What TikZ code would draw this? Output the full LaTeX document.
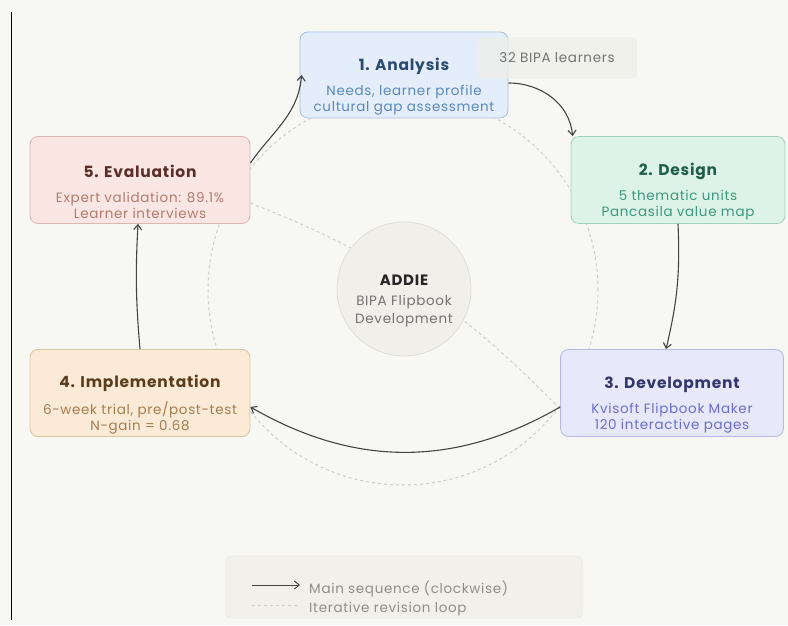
\documentclass[tikz,border=0pt]{standalone}
\usepackage{fontspec}
\setmainfont{Poppins}
\usetikzlibrary{arrows.meta}

\definecolor{bgcol}{HTML}{F7F7F3}
\definecolor{anafill}{HTML}{E4EEFA}
\definecolor{anadraw}{HTML}{A8C0DC}
\definecolor{anatitle}{HTML}{2A4A70}
\definecolor{anasub}{HTML}{5C88BC}
\definecolor{desfill}{HTML}{DDF3EA}
\definecolor{desdraw}{HTML}{A0D2C0}
\definecolor{destitle}{HTML}{1F5E4B}
\definecolor{dessub}{HTML}{3A9A7A}
\definecolor{devfill}{HTML}{E8E8FB}
\definecolor{devdraw}{HTML}{B8B8E4}
\definecolor{devtitle}{HTML}{35356E}
\definecolor{devsub}{HTML}{6C6CCC}
\definecolor{impfill}{HTML}{FBEBD6}
\definecolor{impdraw}{HTML}{DCC6A2}
\definecolor{imptitle}{HTML}{5A3D1F}
\definecolor{impsub}{HTML}{A47C52}
\definecolor{evafill}{HTML}{FAE6E2}
\definecolor{evadraw}{HTML}{DDB8B2}
\definecolor{evatitle}{HTML}{5B2E29}
\definecolor{evasub}{HTML}{B27A72}
\definecolor{corefill}{HTML}{F0EFEA}
\definecolor{coredraw}{HTML}{DEDDD6}
\definecolor{flowgray}{HTML}{444444}
\definecolor{loopgray}{HTML}{CFCFC8}
\definecolor{legfill}{HTML}{F1F0EA}
\definecolor{legdraw}{HTML}{E8E7E0}
\definecolor{legtext}{HTML}{8E8E88}

\newcommand{\stagetitle}[2]{{\color{#1}\fontsize{15.5}{16}\selectfont\bfseries\rule{0pt}{36pt}#2}}
\newcommand{\widefont}[1]{\fontsize{#1}{16}\selectfont\addfontfeature{LetterSpace=5}}

\begin{document}
\begin{tikzpicture}[x=1pt,y=1pt,
  stage/.style={draw, rounded corners=8pt, line width=0.8pt, minimum width=220pt,
    minimum height=87pt, inner ysep=1pt, align=center, font=\widefont{13.5}},
  flow/.style={draw=flowgray, line width=1.1pt, -{Straight Barb[length=5pt,width=8pt]}},
  loop/.style={draw=loopgray, line width=1pt, dash pattern=on 3pt off 3pt}
]
% Canvas and margins
\fill[bgcol] (0,0) rectangle (788,625);
\draw[black, line width=1pt] (11,613) -- (11,5);

% Iterative revision loop
\draw[loop] (403,335) circle (195);

% Stage boxes
\node[stage, fill=evafill, draw=evadraw] (eva) at (140,445)
  {\stagetitle{evatitle}{5. Evaluation}\\[9pt]{\color{evasub}Expert validation: 89.1\%}\\{\color{evasub}Learner interviews}};
\node[stage, fill=devfill, draw=devdraw, minimum width=223pt] (dev) at (672,232)
  {\stagetitle{devtitle}{3. Development}\\[9pt]{\color{devsub}Kvisoft Flipbook Maker}\\{\color{devsub}120 interactive pages}};

% Revision path across the centre
\draw[loop] ([yshift=-23pt]eva.east) to[bend left=12] ([yshift=-16pt]dev.west);

% Centre
\node[circle, fill=corefill, draw=coredraw, line width=0.8pt, minimum size=134pt, inner sep=1pt,
  align=center, font=\fontsize{13.5}{18}\selectfont\addfontfeature{LetterSpace=5}] (core) at (404,336)
  {{\color{black!85}\fontsize{15}{18}\selectfont\bfseries\rule{0pt}{35pt}ADDIE}\\[2pt]{\color{black!55}BIPA Flipbook}\\{\color{black!55}Development}};

\node[stage, fill=anafill, draw=anadraw, minimum width=208pt, minimum height=86pt] (ana) at (404,550)
  {\stagetitle{anatitle}{1. Analysis}\\[9pt]{\color{anasub}Needs, learner profile}\\{\color{anasub}cultural gap assessment}};
\node[stage, fill=desfill, draw=desdraw, minimum width=214pt] (des) at (678,445)
  {\stagetitle{destitle}{2. Design}\\[9pt]{\color{dessub}5 thematic units}\\{\color{dessub}Pancasila value map}};
\node[stage, fill=impfill, draw=impdraw] (imp) at (140,232)
  {\stagetitle{imptitle}{4. Implementation}\\[9pt]{\color{impsub}6-week trial, pre/post-test}\\{\color{impsub}N-gain = 0.68}};

% Learner tag, lying over the analysis box
\node[fill=corefill, fill opacity=0.75, text opacity=1, draw=coredraw!50, line width=0.6pt,
  rounded corners=4pt, minimum width=159pt, minimum height=40pt, font=\widefont{13.5},
  text=black!55] (tag) at (557,567) {32 BIPA learners};

% Main sequence (clockwise)
\draw[flow] ([yshift=-8pt]ana.east) to[out=0, in=95] ([xshift=2pt]des.north west);
\draw[flow] (des.south) to[bend left=8] ([xshift=-6pt]dev.north);
\draw[flow] ([yshift=-14pt]dev.west) to[bend left=30] ([yshift=-14pt]imp.east);
\draw[flow] (imp.north) to[bend left=4] ([xshift=-2pt]eva.south);
\draw[flow] ([yshift=17pt]eva.east) to[out=55, in=-95] ([xshift=2pt]ana.west);

% Legend
\node[fill=legfill, draw=legdraw, rounded corners=6pt, minimum width=358pt,
  minimum height=62pt] (legend) at (404,38) {};
\coordinate (seqa) at (252,40);
\coordinate (seqb) at (300,40);
\coordinate (reva) at (252,20);
\coordinate (revb) at (300,20);
\draw[flow, line width=0.9pt] (seqa) -- (seqb);
\draw[loop] (reva) -- (revb);
\node[anchor=west, text=legtext, font=\fontsize{13.5}{16}\selectfont\addfontfeature{LetterSpace=5}, inner xsep=0pt]
  (seqlabel) at (309,36) {Main sequence (clockwise)};
\node[anchor=west, text=legtext, font=\fontsize{13.5}{16}\selectfont\addfontfeature{LetterSpace=5}, inner xsep=0pt]
  (revlabel) at (309,16) {Iterative revision loop};
\end{tikzpicture}
\end{document}
